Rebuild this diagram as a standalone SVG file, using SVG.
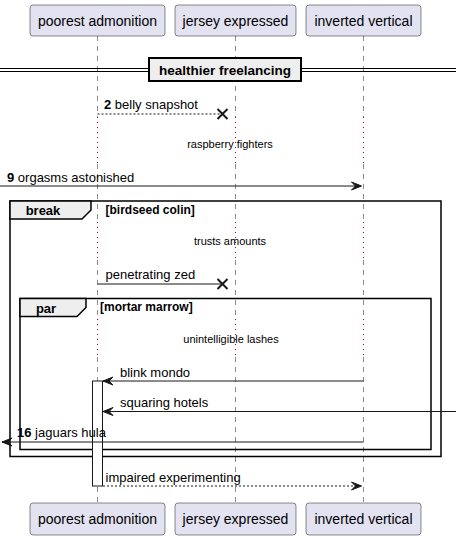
<svg xmlns="http://www.w3.org/2000/svg" width="456" height="540" viewBox="0 0 456 540">
<style>
.pbox{fill:#E2E2F0;stroke:#181818;stroke-width:0.5}
.ptxt{font-family:"Liberation Sans",Arial,sans-serif;font-size:14px;fill:#000;text-anchor:middle}
.life{stroke:#181818;stroke-width:0.5;stroke-dasharray:5,5;fill:none}
.delay{stroke:#A80036;stroke-width:1;stroke-dasharray:1,4;fill:none}
.msg{font-family:"Liberation Sans",Arial,sans-serif;font-size:13px;fill:#000}
.num{font-weight:bold}
.dtxt{font-family:"Liberation Sans",Arial,sans-serif;font-size:11px;fill:#000;text-anchor:middle}
.line{stroke:#181818;stroke-width:1;fill:none}
.dash{stroke:#181818;stroke-width:1;stroke-dasharray:2,2;fill:none}
.head{fill:#181818;stroke:#181818;stroke-width:1}
.x{stroke:#181818;stroke-width:2}
.frame{fill:none;stroke:#000;stroke-width:1.5}
.tab{fill:#EEEEEE;stroke:#000;stroke-width:1.5}
.ftxt{font-family:"Liberation Sans",Arial,sans-serif;font-size:13px;font-weight:bold;fill:#000;text-anchor:middle}
.ctxt{font-family:"Liberation Sans",Arial,sans-serif;font-size:12px;font-weight:bold;fill:#000}
</style>
<g id="lifelines">
<path class="life" d="M97.5,36V117M97.5,164V222M97.5,260V319M97.5,357V503"/>
<path class="life" d="M235.5,36V117M235.5,164V222M235.5,260V319M235.5,357V503"/>
<path class="life" d="M363.5,36V117M363.5,164V222M363.5,260V319M363.5,357V503"/>
<path class="delay" d="M97.5,117V164M97.5,222V260M97.5,319V357"/>
<path class="delay" d="M235.5,117V164M235.5,222V260M235.5,319V357"/>
<path class="delay" d="M363.5,117V164M363.5,222V260M363.5,319V357"/>
</g>
<g id="participant-poorest-admonition">
<rect class="pbox" x="30" y="5" width="135" height="31" rx="3"/>
<text class="ptxt" x="97.5" y="26">poorest admonition</text>
<rect class="pbox" x="30" y="503" width="135" height="32" rx="3"/>
<text class="ptxt" x="97.5" y="524">poorest admonition</text>
</g>
<g id="participant-jersey-expressed">
<rect class="pbox" x="175" y="5" width="121" height="31" rx="3"/>
<text class="ptxt" x="235.5" y="26">jersey expressed</text>
<rect class="pbox" x="175" y="503" width="121" height="32" rx="3"/>
<text class="ptxt" x="235.5" y="524">jersey expressed</text>
</g>
<g id="participant-inverted-vertical">
<rect class="pbox" x="306" y="5" width="115" height="31" rx="3"/>
<text class="ptxt" x="363.5" y="26">inverted vertical</text>
<rect class="pbox" x="306" y="503" width="115" height="32" rx="3"/>
<text class="ptxt" x="363.5" y="524">inverted vertical</text>
</g>
<g id="divider">
<path d="M0,68.5H456M0,71.5H456" stroke="#000" stroke-width="1"/>
<rect x="149" y="58" width="152" height="23" fill="#EEEEEE" stroke="#000" stroke-width="2"/>
<text class="ftxt" x="225" y="75" style="font-size:13.5px">healthier freelancing</text>
</g>
<g id="frame-break">
<rect class="frame" x="10" y="201" width="431" height="255.5"/>
<path class="tab" d="M10,201H91V210L82,219H10Z"/>
<text class="ftxt" x="43" y="215">break</text>
<text class="ctxt" x="105.5" y="214">[birdseed colin]</text>
</g>
<g id="frame-par">
<rect class="frame" x="20" y="298.5" width="411" height="151"/>
<path class="tab" d="M20,298.5H86V307.5L77,316.5H20Z"/>
<text class="ftxt" x="46" y="313">par</text>
<text class="ctxt" x="100" y="311">[mortar marrow]</text>
</g>
<g id="delays">
<text class="dtxt" x="230" y="148">raspberry fighters</text>
<text class="dtxt" x="230" y="245">trusts amounts</text>
<text class="dtxt" x="231" y="343">unintelligible lashes</text>
</g>
<g id="activation">
<rect x="92.5" y="381" width="10" height="105" fill="#fff" stroke="#181818" stroke-width="1"/>
</g>
<g id="connectors">
<path class="dash" d="M97.5,114H222"/>
<path class="x" d="M217.5,109L227.5,119M227.5,109L217.5,119"/>
<text class="msg" x="104" y="109"><tspan class="num">2</tspan> belly snapshot</text>

<path class="line" d="M0,186H361"/>
<polygon class="head" points="351.5,182 361.5,186 351.5,190 355.5,186"/>
<text class="msg" x="7" y="182"><tspan class="num">9</tspan> orgasms astonished</text>

<path class="line" d="M97.5,284H222"/>
<path class="x" d="M217.5,279L227.5,289M227.5,279L217.5,289"/>
<text class="msg" x="105.5" y="279">penetrating zed</text>

<path class="line" d="M103,381H363.5"/>
<polygon class="head" points="113,377 103,381 113,385 109,381"/>
<text class="msg" x="120" y="377">blink mondo</text>

<path class="line" d="M103,411.5H456"/>
<polygon class="head" points="113,407.5 103,411.5 113,415.5 109,411.5"/>
<text class="msg" x="120" y="407">squaring hotels</text>

<path class="line" d="M2,442H363.5"/>
<polygon class="head" points="12,438 2,442 12,446 8,442"/>
<text class="msg" x="17" y="437"><tspan class="num">16</tspan> jaguars hula</text>

<path class="dash" d="M103,486H361"/>
<polygon class="head" points="351.5,482 361.5,486 351.5,490 355.5,486"/>
<text class="msg" x="105.5" y="482">impaired experimenting</text>
</g>
</svg>
